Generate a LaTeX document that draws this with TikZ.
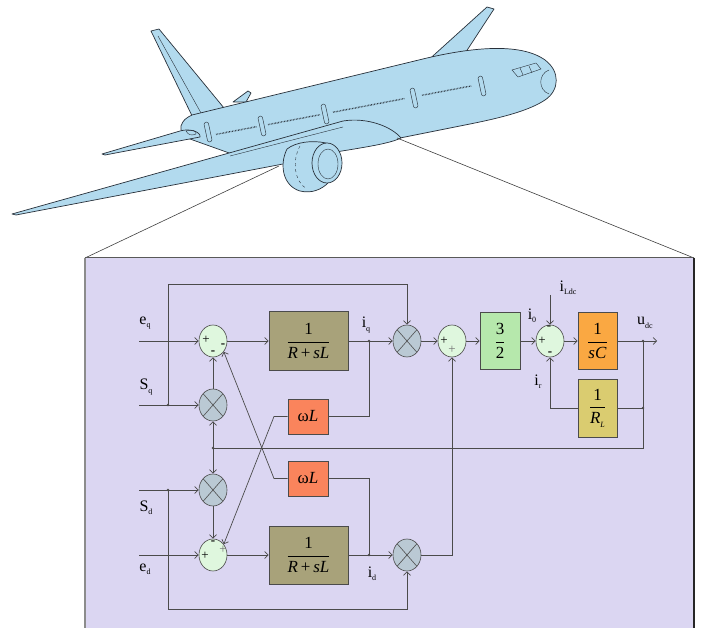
\documentclass[tikz,border=0pt]{standalone}
\usepackage{fontspec}
\setmainfont{Liberation Serif}
\usetikzlibrary{shapes.geometric,arrows.meta}

\definecolor{panelbg}{RGB}{219,214,242}
\definecolor{sumfill}{RGB}{223,247,222}
\definecolor{mulfill}{RGB}{186,201,212}
\definecolor{rlfill}{RGB}{168,162,122}
\definecolor{wlfill}{RGB}{250,132,92}
\definecolor{gainfill}{RGB}{182,232,172}
\definecolor{capfill}{RGB}{250,168,66}
\definecolor{resfill}{RGB}{218,204,112}
\definecolor{wire}{RGB}{75,75,75}
\definecolor{planefill}{RGB}{178,218,238}
\definecolor{planeline}{RGB}{40,48,58}

\newcommand\sub[2]{#1\raisebox{-0.45ex}{\fontsize{8}{9}\selectfont #2}}
\newcommand\blkfrac[2]{$\displaystyle\frac{\mbox{#1}}{\mbox{#2}}$}

\begin{document}
\begin{tikzpicture}[x=1pt,y=-1pt,
  plane/.style={fill=planefill, draw=planeline, line width=0.7pt, line join=round},
  detail/.style={draw=planeline, line width=0.4pt},
  windows/.style={draw=planeline, line width=1.4pt, dash pattern=on 0.6pt off 0.9pt},
  door/.style={draw=planeline, line width=0.45pt, rounded corners=1.5pt, minimum width=4.5pt, minimum height=20pt, inner sep=0pt},
  projline/.style={draw=black!75, line width=0.6pt},
  wires/.style={draw=wire, line width=0.7pt},
  arr/.style={wires, -{Straight Barb[length=3.5pt,width=7pt]}},
  sumnode/.style={ellipse, draw=wire, line width=0.6pt, fill=sumfill, minimum width=28pt, minimum height=32pt, inner sep=0pt},
  mulnode/.style={ellipse, draw=wire, line width=0.6pt, fill=mulfill, minimum width=28pt, minimum height=32pt, inner sep=0pt,
    path picture={\draw[wire, line width=0.6pt] (path picture bounding box.north west) -- (path picture bounding box.south east)
                  (path picture bounding box.north east) -- (path picture bounding box.south west);}},
  blk/.style={draw=wire, line width=0.8pt, inner sep=0pt, font=\fontsize{17}{19}\selectfont},
  lbl/.style={inner sep=0pt, font=\fontsize{16}{18}\selectfont},
  sgn/.style={inner sep=0pt, font=\fontsize{13}{14}\selectfont},
  dot/.style={fill=wire}
]
\useasboundingbox (0,0) rectangle (704,628);

% ---------- aircraft ----------
% far wing
\path[plane] (424,64) -- (487,7) -- (494,9) -- (462,58) -- cycle;
% vertical fin
\path[plane] (195,122) -- (151,31) -- (159,29) -- (224,108) -- cycle;
\draw[detail] (158,36) -- (201,113);
% far horizontal stabiliser
\path[plane] (233,102) -- (248,91) -- (251,93) -- (246,102) -- cycle;
% fuselage
\path[plane] (181,126) .. controls (183,120) and (186,118) .. (192,115) -- (427,58)
  .. controls (470,48) and (520,42) .. (545,60)
  .. controls (560,71) and (560,90) .. (545,100)
  .. controls (530,110) and (505,117) .. (470,124) -- (400,138) -- (232,154) -- (190,139)
  .. controls (183,136) and (180,131) .. (181,126) -- cycle;
% near horizontal stabiliser
\path[plane] (102,154) -- (180,131) .. controls (190,128) and (201,132) .. (200,137) -- (105,155) -- cycle;
\draw[detail] (186,131) .. controls (192,129) and (197,131) .. (196,134) .. controls (192,136) and (188,135) .. (186,131);
% flap track fairings
\path[plane] (162,182) ellipse [x radius=6pt, y radius=3pt];
\path[plane] (218,168) ellipse [x radius=6pt, y radius=3pt];
% near wing
\path[plane] (12,214) -- (343,121) .. controls (368,117) and (392,127) .. (401,138)
  .. controls (385,146) and (340,150) .. (305,158) -- (283,164) -- (16,215) -- cycle;
\draw[detail] (230,156) -- (343,127);
% engine
\path[plane] (287,149) .. controls (279,165) and (283,186) .. (300,191)
  .. controls (312,194) and (322,189) .. (328,183) -- (326,143)
  .. controls (312,140) and (296,142) .. (287,149) -- cycle;
\draw[detail, dashed] (300,146) .. controls (292,160) and (294,182) .. (307,189);
\path[plane] (327,163) ellipse [x radius=15pt, y radius=20pt];
\draw[detail] (328,164) ellipse [x radius=10pt, y radius=15pt];
% cabin windows and doors
\draw[windows] (216,134.4) -- (257,126.6);
\draw[windows] (268,124.6) -- (320,114.7);
\draw[windows] (333,112.2) -- (405,98.5);
\draw[windows] (422,95.3) -- (472,85.8);
\node[door, rotate=12] (door1) at (208,132) {};
\node[door, rotate=12] (door2) at (262,126) {};
\node[door, rotate=12] (door3) at (325,114) {};
\node[door, rotate=12] (door4) at (414,98) {};
\node[door, rotate=12] (door5) at (482,86) {};
% cockpit and radome
\draw[detail] (512,70) -- (536,63) -- (541,69) -- (518,77) -- cycle;
\draw[detail] (520,68) -- (523,75) (529,66) -- (532,73);
\draw[detail] (549,70) .. controls (538,74) and (538,90) .. (549,94);

% projection lines
\draw[projline] (279,166) -- (85,258);
\draw[projline] (397,138) -- (694,258);

% ---------- panel ----------
\fill[panelbg] (85,258) rectangle (694,628);
\draw[black!45, line width=1.2pt] (85,628) -- (85,258);
\draw[black!65, line width=1pt] (85,258) -- (694,258);
\draw[black!85, line width=1.3pt] (694,258) -- (694,628);

% ---------- block diagram ----------
\node[sumnode] (SQ) at (213,341) {};
\node[mulnode] (MQ) at (213,405) {};
\node[mulnode] (MD) at (213,490) {};
\node[sumnode] (SD) at (213,555) {};
\node[blk, fill=rlfill, minimum width=79pt, minimum height=59pt] (BQ) at (308.5,341) {\blkfrac{1}{\textit{R}\,+\,\textit{sL}}};
\node[blk, fill=rlfill, minimum width=79pt, minimum height=58pt] (BD) at (308.5,555) {\blkfrac{1}{\textit{R}\,+\,\textit{sL}}};
\node[blk, fill=wlfill, minimum width=40pt, minimum height=35pt] (WQ) at (308,416.5) {ω\textit{L}};
\node[blk, fill=wlfill, minimum width=40pt, minimum height=35pt] (WD) at (308,478.5) {ω\textit{L}};
\node[mulnode] (MIQ) at (407,341) {};
\node[mulnode] (MID) at (407,555) {};
\node[sumnode] (S2) at (452,341) {};
\node[blk, fill=gainfill, minimum width=40pt, minimum height=57pt] (G) at (500,341) {\blkfrac{3}{2}};
\node[sumnode] (SDC) at (550,341) {};
\node[blk, fill=capfill, minimum width=39pt, minimum height=57pt] (CAP) at (597.5,341) {\blkfrac{1}{\textit{sC}}};
\node[blk, fill=resfill, minimum width=39pt, minimum height=58pt] (RL) at (597.5,408) {\blkfrac{1}{\sub{\textit{R}}{\textit{L}}}};

\coordinate (eqin) at (139,341);
\coordinate (sqin) at (139,405);
\coordinate (sdin) at (139,490);
\coordinate (edin) at (139,555);
\coordinate (jSq) at (168,405);
\coordinate (jSd) at (168,490);
\coordinate (jIq) at (369,341);
\coordinate (jId) at (369,555);
\coordinate (topq) at (407,284);
\coordinate (botd) at (407,609);
\coordinate (jU) at (643,341);
\coordinate (out) at (657,341);
\coordinate (jR) at (643,408);
\coordinate (corner) at (643,448);
\coordinate (jM) at (213,448);
\coordinate (iLtop) at (550,295);
\coordinate (bendQ) at (274,416.5);
\coordinate (bendD) at (274,478.5);

\draw[arr] (eqin) -- (SQ.west);
\draw[arr] (sqin) -- (MQ.west);
\draw[arr] (sdin) -- (MD.west);
\draw[arr] (edin) -- (SD.west);
\draw[arr] (SQ.east) -- (BQ.west);
\draw[arr] (SD.east) -- (BD.west);
\draw[arr] (BQ.east) -- (MIQ.west);
\draw[arr] (BD.east) -- (MID.west);
\draw[arr] (MQ.north) -- (SQ.south);
\draw[arr] (MD.south) -- (SD.north);
\draw[arr] (jSq) |- (topq) -- (MIQ.north);
\draw[arr] (jSd) |- (botd) -- (MID.south);
\draw[wires] (jIq) |- (WQ.east);
\draw[wires] (jId) |- (WD.east);
\draw[arr] (WQ.west) -- (bendQ) -- (SD.45);
\draw[arr] (WD.west) -- (bendD) -- (SQ.-45);
\draw[arr] (MIQ.east) -- (S2.west);
\draw[arr] (MID.east) -| (S2.south);
\draw[arr] (S2.east) -- (G.west);
\draw[arr] (G.east) -- (SDC.west);
\draw[arr] (SDC.east) -- (CAP.west);
\draw[arr] (CAP.east) -- (out);
\draw[wires] (jU) -- (corner) -- (jM);
\draw[arr] (jM) -- (MQ.south);
\draw[arr] (jM) -- (MD.north);
\draw[wires] (jR) -- (RL.east);
\draw[arr] (RL.west) -| (SDC.south);
\draw[arr] (iLtop) -- (SDC.north);

\foreach \j in {jSq,jSd,jIq,jId,jU,jR,jM} \fill[dot] (\j) circle (1.3pt);

% signs at the summing points
\node[sgn] (sq1) at (206,340) {+};
\node[sgn] (sq2) at (223,346) {\textbf{-}};
\node[sgn] (sq3) at (213,353) {\textbf{-}};
\node[sgn] (sd1) at (213,543) {\textbf{-}};
\node[sgn] (sd2) at (205,556) {+};
\node[sgn, text=black!55] (sd3) at (223,550) {+};
\node[sgn] (s21) at (444,341) {+};
\node[sgn, text=black!55] (s22) at (452,350) {+};
\node[sgn] (sc1) at (542,341) {+};
\node[sgn] (sc2) at (549,328) {\textbf{-}};
\node[sgn] (sc3) at (550,354) {\textbf{-}};

% signal labels
\node[lbl] (leq) at (145,323) {\sub{e}{q}};
\node[lbl] (lsq) at (146,387) {\sub{S}{q}};
\node[lbl] (lsd) at (146,508) {\sub{S}{d}};
\node[lbl] (led) at (145,569) {\sub{e}{d}};
\node[lbl] (liq) at (366,325) {\sub{i}{q}};
\node[lbl] (lid) at (372,574) {\sub{i}{d}};
\node[lbl] (li0) at (532,316) {\sub{i}{0}};
\node[lbl] (liL) at (568,288) {\sub{i}{Ldc}};
\node[lbl] (lir) at (538,382) {\sub{i}{r}};
\node[lbl] (lud) at (645,323) {\sub{u}{dc}};
\end{tikzpicture}
\end{document}
